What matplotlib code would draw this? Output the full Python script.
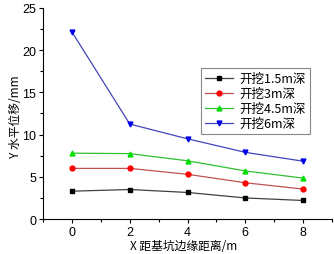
import matplotlib
matplotlib.use("Agg")
import matplotlib.pyplot as plt
from matplotlib.ticker import MultipleLocator

x = [0, 2, 4, 6, 8]
s15 = [3.3, 3.5, 3.15, 2.5, 2.2]
s3 = [6.0, 6.0, 5.3, 4.3, 3.55]
s45 = [7.8, 7.75, 6.9, 5.7, 4.85]
s6 = [22.15, 11.25, 9.5, 7.9, 6.85]
labels = ["开挖1.5m深", "开挖3m深", "开挖4.5m深", "开挖6m深"]

plt.rcParams['font.family'] = ['Liberation Sans', 'Noto Sans CJK SC', 'DejaVu Sans']
cjk = ['Noto Sans CJK SC', 'DejaVu Sans']

fig = plt.figure(figsize=(3.34, 2.55), dpi=100)
ax = fig.add_axes([0.129, 0.137, 0.865, 0.828])

styles = [("black", "#404040", "s"), ("red", "#c05050", "o"), ("#00dd00", "#30c030", "^"), ("#0000ee", "#4444bb", "v")]
for data, lab, (mc, lc, m) in zip([s15, s3, s45, s6], labels, styles):
    ax.plot(x, data, color=lc, lw=0.9, marker=m, markersize=3.5, markerfacecolor=mc, markeredgecolor=mc, label=lab)

ax.set_xlim(-1, 9)
ax.set_ylim(0, 25)
ax.xaxis.set_major_locator(MultipleLocator(2))
ax.xaxis.set_minor_locator(MultipleLocator(1))
ax.yaxis.set_major_locator(MultipleLocator(5))
ax.yaxis.set_minor_locator(MultipleLocator(2.5))
ax.spines['top'].set_visible(False)
ax.spines['right'].set_visible(False)
ax.tick_params(which='major', direction='out', length=3, labelsize=9, width=0.8, pad=2)
ax.tick_params(which='minor', direction='out', length=2, width=0.8)

fig.text(0.551, 1 - 247 / 255, "X 距基坑边缘距离/m", fontsize=8.5, family=cjk, ha='center', va='center')
fig.text(0.045, 0.541, "Y 水平位移/mm", fontsize=8.5, family=cjk, ha='center', va='center', rotation=90)

leg = ax.legend(loc='upper left', bbox_to_anchor=(0.525, 0.745), prop={'family': cjk, 'size': 9},
                fancybox=False, edgecolor='#888888', framealpha=1, handlelength=2.2, labelspacing=0.15,
                borderpad=0.35, handletextpad=0.5)
leg.get_frame().set_linewidth(0.8)

fig.savefig("out.png", dpi=100)
